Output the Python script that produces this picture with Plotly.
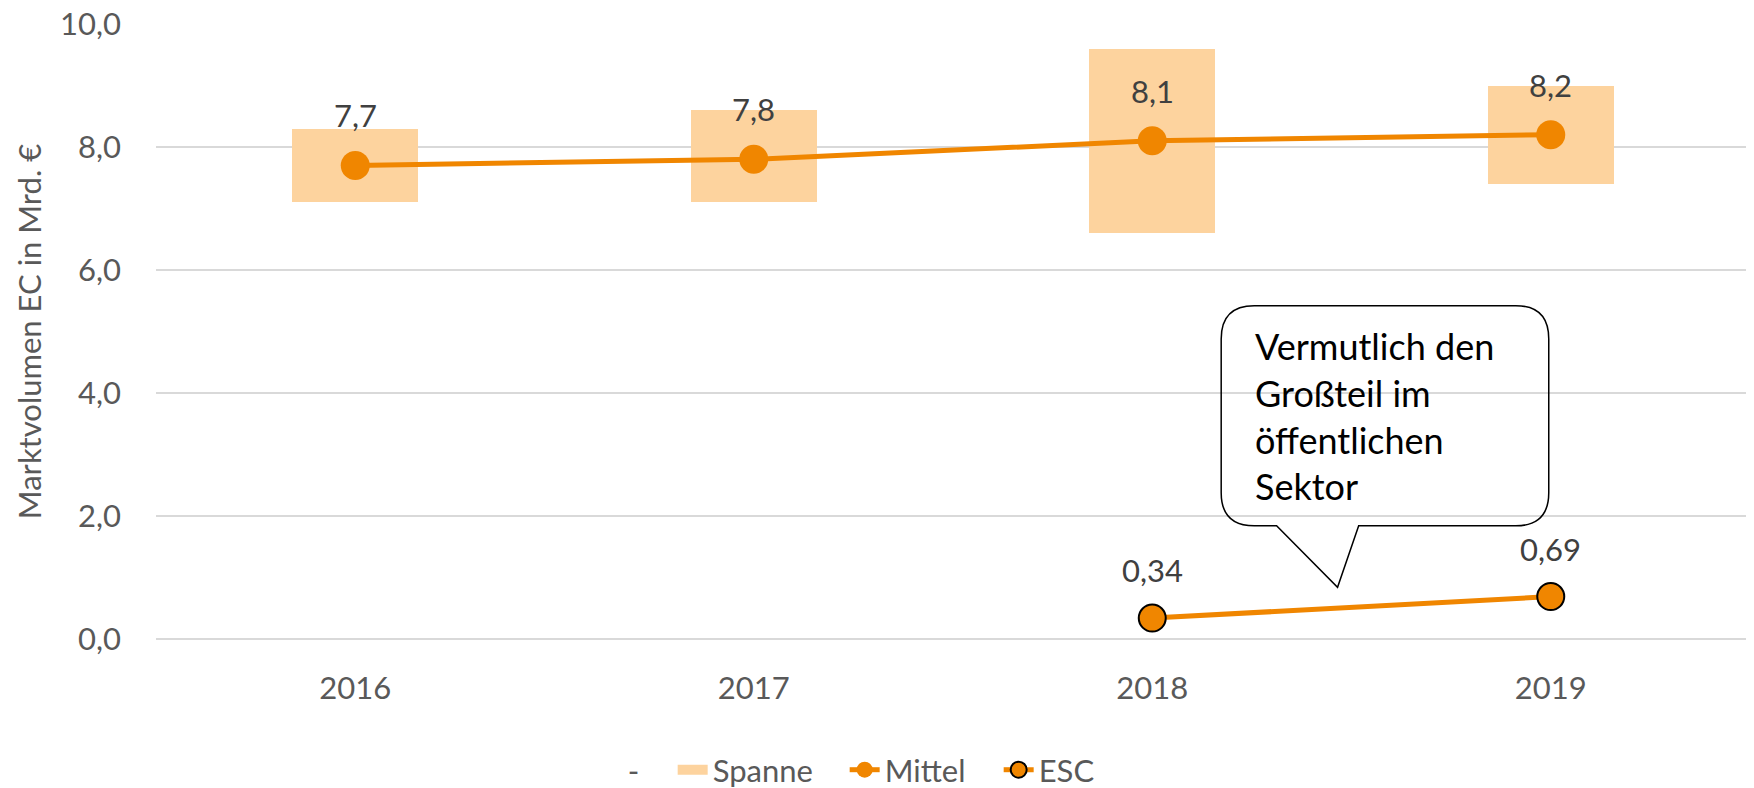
import plotly.graph_objects as go

years = ["2016", "2017", "2018", "2019"]
spanne_low = [7.1, 7.1, 6.6, 7.4]
spanne_high = [8.3, 8.6, 9.6, 9.0]
mittel = [7.7, 7.8, 8.1, 8.2]
esc = [None, None, 0.34, 0.69]
callout_text = "Vermutlich den<br>Großteil im<br>öffentlichen<br>Sektor"

FONT = "Lato"
ORANGE = "#F08600"
LIGHT = "#FDD39E"
GRAY = "#595959"
LABEL = "#404040"

xpos = list(range(len(years)))

def fmt(v):
    return str(v).replace(".", ",")

fig = go.Figure()

fig.add_trace(go.Bar(
    x=xpos,
    y=[h - l for h, l in zip(spanne_high, spanne_low)],
    base=spanne_low,
    width=0.315,
    marker=dict(color=LIGHT, line=dict(width=0)),
    name="Spanne", showlegend=False, legendgroup="sp",
))

# legend entries
fig.add_trace(go.Scatter(x=[None], y=[None], mode="lines", name="-",
                         line=dict(color="rgba(0,0,0,0)", width=0), legendrank=1,
                         legendwidth=40))
fig.add_trace(go.Scatter(x=[None], y=[None], mode="lines", name="Spanne",
                         line=dict(color=LIGHT, width=21), legendgroup="sp", legendrank=2,
                         legendwidth=127))

fig.add_trace(go.Scatter(
    x=xpos, y=mittel, mode="lines+markers", name="Mittel",
    line=dict(color=ORANGE, width=5),
    marker=dict(color=ORANGE, size=29), legendrank=3, legendwidth=109,
))

fig.add_trace(go.Scatter(
    x=xpos, y=esc, mode="lines+markers", name="ESC",
    line=dict(color=ORANGE, width=5),
    marker=dict(color=ORANGE, size=27, line=dict(color="black", width=2)), legendrank=4,
))

for xi, v in zip(xpos, mittel):
    fig.add_annotation(x=xi, y=v, text=fmt(v), showarrow=False, yshift=50,
                       font=dict(family=FONT, size=31, color=LABEL))
for xi, v in zip(xpos, esc):
    if v is not None:
        fig.add_annotation(x=xi, y=v, text=fmt(v), showarrow=False, yshift=48,
                           font=dict(family=FONT, size=31, color=LABEL))

# Callout bubble
x0, x1, y0, y1 = 2.173, 2.995, 1.84, 5.42
rx, ry = 0.083, 0.54
bl, br, tx, ty = 2.312, 2.518, 2.465, 0.84
path = (f"M{x0+rx},{y1} L{x1-rx},{y1} Q{x1},{y1} {x1},{y1-ry} "
        f"L{x1},{y0+ry} Q{x1},{y0} {x1-rx},{y0} L{br},{y0} L{tx},{ty} L{bl},{y0} "
        f"L{x0+rx},{y0} Q{x0},{y0} {x0},{y0+ry} L{x0},{y1-ry} Q{x0},{y1} {x0+rx},{y1} Z")
fig.add_shape(type="path", path=path, xref="x", yref="y",
              line=dict(color="black", width=1.5), fillcolor="rgba(0,0,0,0)", layer="above")
fig.add_annotation(x=2.253, y=3.62, xanchor="left", yanchor="middle", align="left",
                   text=callout_text, showarrow=False,
                   font=dict(family=FONT, size=36, color="black"))

fig.update_layout(
    width=1746, height=780,
    margin=dict(l=148, r=4, t=16, b=149),
    paper_bgcolor="white", plot_bgcolor="white",
    separators=", ",
    font=dict(family=FONT, size=31, color=GRAY),
    showlegend=True,
    legend=dict(orientation="h", xref="container", yref="container",
                x=0.332, xanchor="left", y=0.023, yanchor="middle",
                font=dict(family=FONT, size=31, color=GRAY),
                traceorder="normal", itemwidth=30),
    bargap=0,
)
fig.update_xaxes(range=[-0.5, 3.5], tickvals=xpos, ticktext=years,
                 showgrid=False, zeroline=False, showline=False, automargin=False,
                 ticklabelstandoff=28, tickfont=dict(size=31, color=GRAY))
fig.update_yaxes(range=[0, 10], dtick=2, tickformat=".1f", automargin=False,
                 showgrid=True, gridcolor="#D9D9D9", gridwidth=1.5,
                 zeroline=True, zerolinecolor="#D9D9D9", zerolinewidth=1.5,
                 ticklabeloverflow="allow",
                 ticklabelstandoff=34, tickfont=dict(size=31, color=GRAY),
                 title=dict(text="Marktvolumen EC in Mrd. €", standoff=9,
                            font=dict(size=31, color=GRAY)))

fig.write_html("out.html")
